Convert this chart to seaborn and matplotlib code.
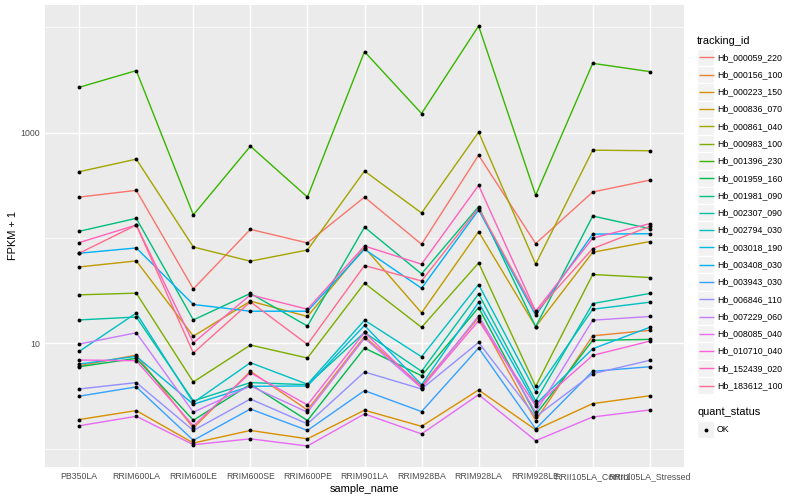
import numpy as np
import pandas as pd
import matplotlib
matplotlib.use("Agg")
import matplotlib.pyplot as plt
import seaborn as sns
from matplotlib.patches import Rectangle
from matplotlib.ticker import NullFormatter

# ---------------- data ----------------
samples = ["PB350LA", "RRIM600LA", "RRIM600LE", "RRIM600SE", "RRIM600PE",
           "RRIM901LA", "RRIM928BA", "RRIM928LA", "RRIM928LE",
           "RRII105LA_Control", "RRII105LA_Stressed"]

tracking_ids = ["Hb_000059_220", "Hb_000156_100", "Hb_000223_150", "Hb_000836_070",
                "Hb_000861_040", "Hb_000983_100", "Hb_001396_230", "Hb_001959_160",
                "Hb_001981_090", "Hb_002307_090", "Hb_002794_030", "Hb_003018_190",
                "Hb_003408_030", "Hb_003943_030", "Hb_006846_110", "Hb_007229_060",
                "Hb_008085_040", "Hb_010710_040", "Hb_152439_020", "Hb_183612_100"]

# FPKM + 1 per sample
hb_000059_220 = [245, 284, 32.9, 121, 89.9, 245, 87.3, 613, 88.7, 274, 355]
hb_000156_100 = [6.13, 7.75, 1.57, 5.43, 2.33, 11.6, 3.94, 17.6, 1.85, 11.8, 13.3]
hb_000223_150 = [1.89, 2.30, 1.13, 1.49, 1.24, 2.32, 1.63, 3.61, 1.51, 2.68, 3.18]
hb_000836_070 = [53.2, 60.7, 11.7, 25.2, 18.0, 81.3, 19.5, 115, 14.4, 73.3, 92.7]
hb_000861_040 = [427, 562, 82.3, 60.3, 77.1, 433, 173, 1013, 56.5, 684, 675]
hb_000983_100 = [28.9, 30.0, 4.30, 9.64, 7.26, 37.3, 14.2, 58.1, 3.91, 45.1, 42.2]
hb_001396_230 = [2705, 3895, 166, 746, 245, 5898, 1524, 10332, 255, 4567, 3811]
hb_001959_160 = [6.00, 7.21, 1.86, 4.09, 1.85, 9.03, 4.93, 21.9, 2.10, 10.7, 10.9]
hb_001981_090 = [116, 154, 16.7, 29.8, 14.6, 127, 45.7, 199, 14.4, 162, 123]
hb_002307_090 = [16.7, 17.8, 2.84, 4.24, 4.05, 12.7, 5.43, 29.5, 2.84, 23.9, 29.8]
hb_002794_030 = [8.40, 19.4, 2.74, 6.55, 4.09, 16.6, 7.46, 36.2, 3.48, 21.1, 24.6]
hb_003018_190 = [6.36, 7.53, 2.64, 3.91, 3.94, 14.8, 4.05, 24.5, 2.64, 8.89, 14.2]
hb_003408_030 = [71.8, 80.6, 23.4, 20.2, 20.2, 78.3, 33.4, 185, 18.5, 109, 110]
hb_003943_030 = [3.15, 3.86, 1.20, 2.38, 1.49, 3.56, 2.25, 9.03, 1.54, 5.43, 6.00]
hb_006846_110 = [3.69, 4.24, 1.49, 2.96, 1.72, 5.35, 3.69, 10.2, 2.01, 5.15, 6.90]
hb_007229_060 = [9.85, 12.6, 2.22, 3.94, 2.22, 11.2, 3.77, 18.3, 2.22, 16.6, 18.0]
hb_008085_040 = [1.65, 2.03, 1.09, 1.24, 1.06, 2.14, 1.38, 3.26, 1.19, 2.00, 2.33]
hb_010710_040 = [6.95, 6.84, 1.65, 5.26, 2.60, 12.7, 3.79, 16.4, 2.56, 7.69, 10.5]
hb_152439_020 = [90.6, 133, 10.1, 28.9, 21.1, 84.1, 56.5, 317, 20.2, 100, 137]
hb_183612_100 = [71.8, 133, 8.09, 24.8, 9.78, 54.8, 39.2, 192, 19.7, 79.5, 129]

palette = ["#F8766D", "#EA8331", "#D89000", "#C09B00", "#A3A500", "#7CAE00",
           "#39B600", "#00BB4E", "#00BF7D", "#00C1A3", "#00BFC4", "#00BAE0",
           "#00B0F6", "#35A2FF", "#9590FF", "#C77CFF", "#E76BF3", "#FA62DB",
           "#FF62BC", "#FF6C91"]

quant_levels = ["OK"]

series = [hb_000059_220, hb_000156_100, hb_000223_150, hb_000836_070, hb_000861_040,
          hb_000983_100, hb_001396_230, hb_001959_160, hb_001981_090, hb_002307_090,
          hb_002794_030, hb_003018_190, hb_003408_030, hb_003943_030, hb_006846_110,
          hb_007229_060, hb_008085_040, hb_010710_040, hb_152439_020, hb_183612_100]

rows = []
for tid, vals in zip(tracking_ids, series):
    for i, (s, v) in enumerate(zip(samples, vals)):
        rows.append({"tracking_id": tid, "sample_name": s, "pos": i,
                     "fpkm1": v, "quant_status": "OK"})
df = pd.DataFrame(rows)

# ---------------- figure ----------------
sns.set_theme(style="darkgrid")
plt.rcParams['font.family'] = ['Liberation Sans', 'DejaVu Sans']

W, H = 800, 500
fig = plt.figure(figsize=(W / 72, H / 72), dpi=72)
fig.patch.set_facecolor("white")
ax = fig.add_axes([45 / W, 1 - 467 / H, 639 / W, 462 / H])
ax.set_facecolor("#EBEBEB")
for sp in ax.spines.values():
    sp.set_visible(False)

sns.lineplot(data=df, x="pos", y="fpkm1", hue="tracking_id", hue_order=tracking_ids,
             palette=palette, linewidth=1.4, estimator=None, sort=False,
             legend=False, ax=ax, zorder=2)
sns.scatterplot(data=df, x="pos", y="fpkm1", color="black", s=15, linewidth=0,
                legend=False, ax=ax, zorder=3)

ax.set_yscale("log")
lo, hi = np.log10(df["fpkm1"].min()), np.log10(df["fpkm1"].max())
pad = 0.05 * (hi - lo)
ax.set_ylim(10 ** (lo - pad), 10 ** (hi + pad))
ax.set_xlim(-0.6, len(samples) - 1 + 0.6)

ax.set_xticks(range(len(samples)))
ax.set_xticklabels(samples)
ax.set_yticks([10, 1000])
ax.set_yticklabels(["10", "1000"])
ax.set_yticks([1, 100, 10000], minor=True)
ax.yaxis.set_minor_formatter(NullFormatter())
ax.tick_params(axis="both", which="major", length=2.75, width=1.0, color="#333333",
               labelsize=8.8, labelcolor="#4D4D4D", pad=2.2)
ax.tick_params(axis="y", which="minor", length=0)

ax.set_axisbelow(True)
ax.grid(False)
ax.grid(True, which="major", axis="both", color="white", linewidth=1.42)
ax.yaxis.grid(True, which="minor", color="white", linewidth=0.71)

ax.set_xlabel("sample_name", fontsize=11, color="black", labelpad=2.75)
ax.set_ylabel("FPKM + 1", fontsize=11, color="black", labelpad=2.75)

# ---------------- legends ----------------
lax = fig.add_axes([0, 0, 1, 1])
lax.set_xlim(0, W)
lax.set_ylim(H, 0)
lax.axis("off")

lax.text(697, 40.5, "tracking_id", fontsize=11, ha="left", va="center", color="black")
key = 17.28
y0 = 57.3
for i, (tid, c) in enumerate(zip(tracking_ids, palette)):
    yc = y0 + i * key
    lax.add_patch(Rectangle((697, yc - key / 2), key, key, facecolor="#F2F2F2",
                            edgecolor="white", linewidth=1.2))
    lax.plot([698.7, 713.9], [yc, yc], color=c, linewidth=1.4, solid_capstyle="butt")
    lax.text(716.8, yc, tid, fontsize=8.8, ha="left", va="center", color="black")

lax.text(697, 412, "quant_status", fontsize=11, ha="left", va="center", color="black")
yc = 429.5
for lvl in quant_levels:
    lax.add_patch(Rectangle((697, yc - key / 2), key, key, facecolor="#F2F2F2",
                            edgecolor="white", linewidth=1.2))
    lax.scatter([697 + key / 2], [yc], s=15, color="black", linewidth=0)
    lax.text(716.8, yc, lvl, fontsize=8.8, ha="left", va="center", color="black")

fig.savefig("out.png", dpi=72, facecolor="white")
